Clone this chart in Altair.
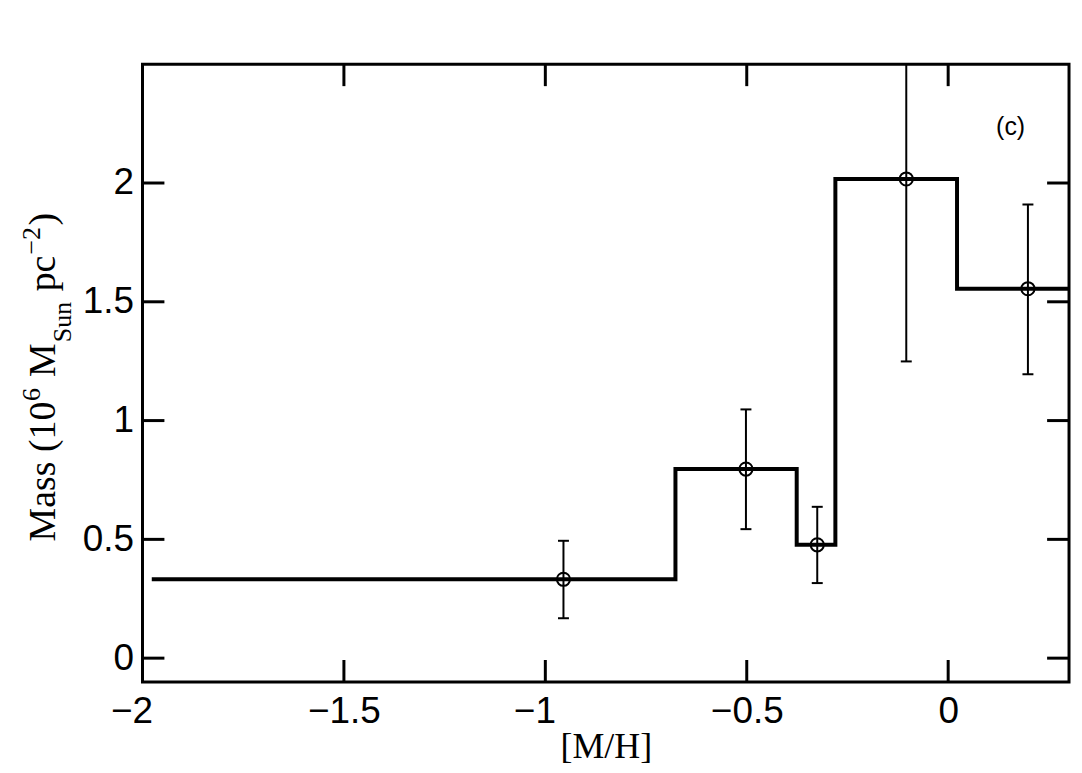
import altair as alt
import pandas as pd

# ---- data ----
edges = [-1.977, -0.677, -0.376, -0.280, 0.022, 0.30]
levels = [0.332, 0.796, 0.477, 2.017, 1.555]
pt_x = [-0.955, -0.502, -0.325, -0.104, 0.198]
pt_y = [0.332, 0.796, 0.477, 2.017, 1.555]
err_lo = [0.168, 0.543, 0.316, 1.249, 1.195]
err_hi = [0.494, 1.047, 0.637, 2.785, 1.910]
x_ticks = [-2, -1.5, -1, -0.5, 0]
y_ticks = [0, 0.5, 1, 1.5, 2]
panel_label = ["(c)"]
panel_pos = [0.155, 2.236]

W, H = 930, 620
TICK = 22

step_df = pd.DataFrame({"x": edges, "y": levels + [levels[-1]]})
pts_df = pd.DataFrame({"x": pt_x, "y": pt_y, "lo": err_lo, "hi": err_hi})
xt_df = pd.DataFrame({"x": x_ticks})
yt_df = pd.DataFrame({"y": y_ticks})
lab_df = pd.DataFrame({"x": [panel_pos[0]], "y": [panel_pos[1]], "t": panel_label})

xscale = alt.Scale(domain=[-2, 0.3], nice=False, zero=False)
yscale = alt.Scale(domain=[-0.1, 2.5], nice=False, zero=False)

x_axis = alt.Axis(values=x_ticks, format="~g", ticks=False, domain=False, grid=False,
                  labelFont="Liberation Sans", labelFontSize=37, labelColor="black",
                  labelPadding=12, labelFlush=False,
                  labelOffset={"condition": {"test": "datum.value == -1 || datum.value == -2",
                                             "value": -11}, "value": 0},
                  title="[M/H]", titleFont="Liberation Serif", titleFontSize=36,
                  titleFontWeight="normal", titleColor="black", titlePadding=0)
y_axis = alt.Axis(values=y_ticks, format="~g", ticks=False, domain=False, grid=False,
                  labelFont="Liberation Sans", labelFontSize=37, labelColor="black",
                  labelPadding=9, labelFlush=False, title="")


def X(f):
    return alt.X(f, scale=xscale, axis=x_axis)


def Y(f):
    return alt.Y(f, scale=yscale, axis=y_axis)


step = alt.Chart(step_df).mark_line(interpolate="step-after", color="black",
                                    strokeWidth=4, clip=True).encode(
    x=X("x:Q"), y=Y("y:Q"))

ebar = alt.Chart(pts_df).mark_rule(color="black", strokeWidth=2, clip=True).encode(
    x=X("x:Q"), y=Y("lo:Q"), y2="hi:Q")
cap_lo = alt.Chart(pts_df).mark_tick(orient="horizontal", color="black", size=11,
                                     thickness=2, clip=True, opacity=1).encode(
    x=X("x:Q"), y=Y("lo:Q"))
cap_hi = alt.Chart(pts_df).mark_tick(orient="horizontal", color="black", size=11,
                                     thickness=2, clip=True, opacity=1).encode(
    x=X("x:Q"), y=Y("hi:Q"))
circ = alt.Chart(pts_df).mark_point(shape="circle", filled=False, size=175,
                                    strokeWidth=2, color="black", opacity=1,
                                    clip=True).encode(
    x=X("x:Q"), y=Y("y:Q"))

# inward ticks on all four sides
tk = dict(color="black", strokeWidth=3)
xt_bot = alt.Chart(xt_df).mark_rule(**tk).encode(
    x=X("x:Q"), y=alt.value(H), y2=alt.value(H - TICK))
xt_top = alt.Chart(xt_df).mark_rule(**tk).encode(
    x=X("x:Q"), y=alt.value(0), y2=alt.value(TICK))
yt_left = alt.Chart(yt_df).mark_rule(**tk).encode(
    y=Y("y:Q"), x=alt.value(0), x2=alt.value(TICK))
yt_right = alt.Chart(yt_df).mark_rule(**tk).encode(
    y=Y("y:Q"), x=alt.value(W), x2=alt.value(W - TICK))

label = alt.Chart(lab_df).mark_text(font="Liberation Sans", fontSize=25, color="black",
                                    align="center", baseline="middle").encode(
    x=X("x:Q"), y=Y("y:Q"), text="t:N")

# y-axis title built from pieces (super/subscripts), rotated
one = pd.DataFrame({"a": [0]})
pieces = [
    ("Mass (10", 38, -88, 479.0),
    ("6", 26, -103, 338.0),
    ("M", 38, -88, 314.0),
    ("Sun", 26, -72, 279.0),
    ("pc", 38, -88, 228.0),
    ("\u22122", 26, -103, 191.0),
    (")", 38, -88, 162.0),
]
title_layers = []
for txt, fs, px, py in pieces:
    title_layers.append(
        alt.Chart(one).mark_text(font="Liberation Serif", fontSize=fs, color="black",
                                 angle=270, align="left", baseline="alphabetic").encode(
            x=alt.value(px), y=alt.value(py), text=alt.value(txt))
    )

chart = alt.layer(step, ebar, cap_lo, cap_hi, circ, xt_bot, xt_top, yt_left, yt_right,
                  label, *title_layers).properties(
    width=W, height=H,
    autosize=alt.AutoSizeParams(type="none"),
    padding={"left": 135, "top": 55, "right": 5, "bottom": 90},
    background="white",
).configure_view(stroke="black", strokeWidth=3)

chart.save("out.html", embed_options={"renderer": "svg", "actions": False})
